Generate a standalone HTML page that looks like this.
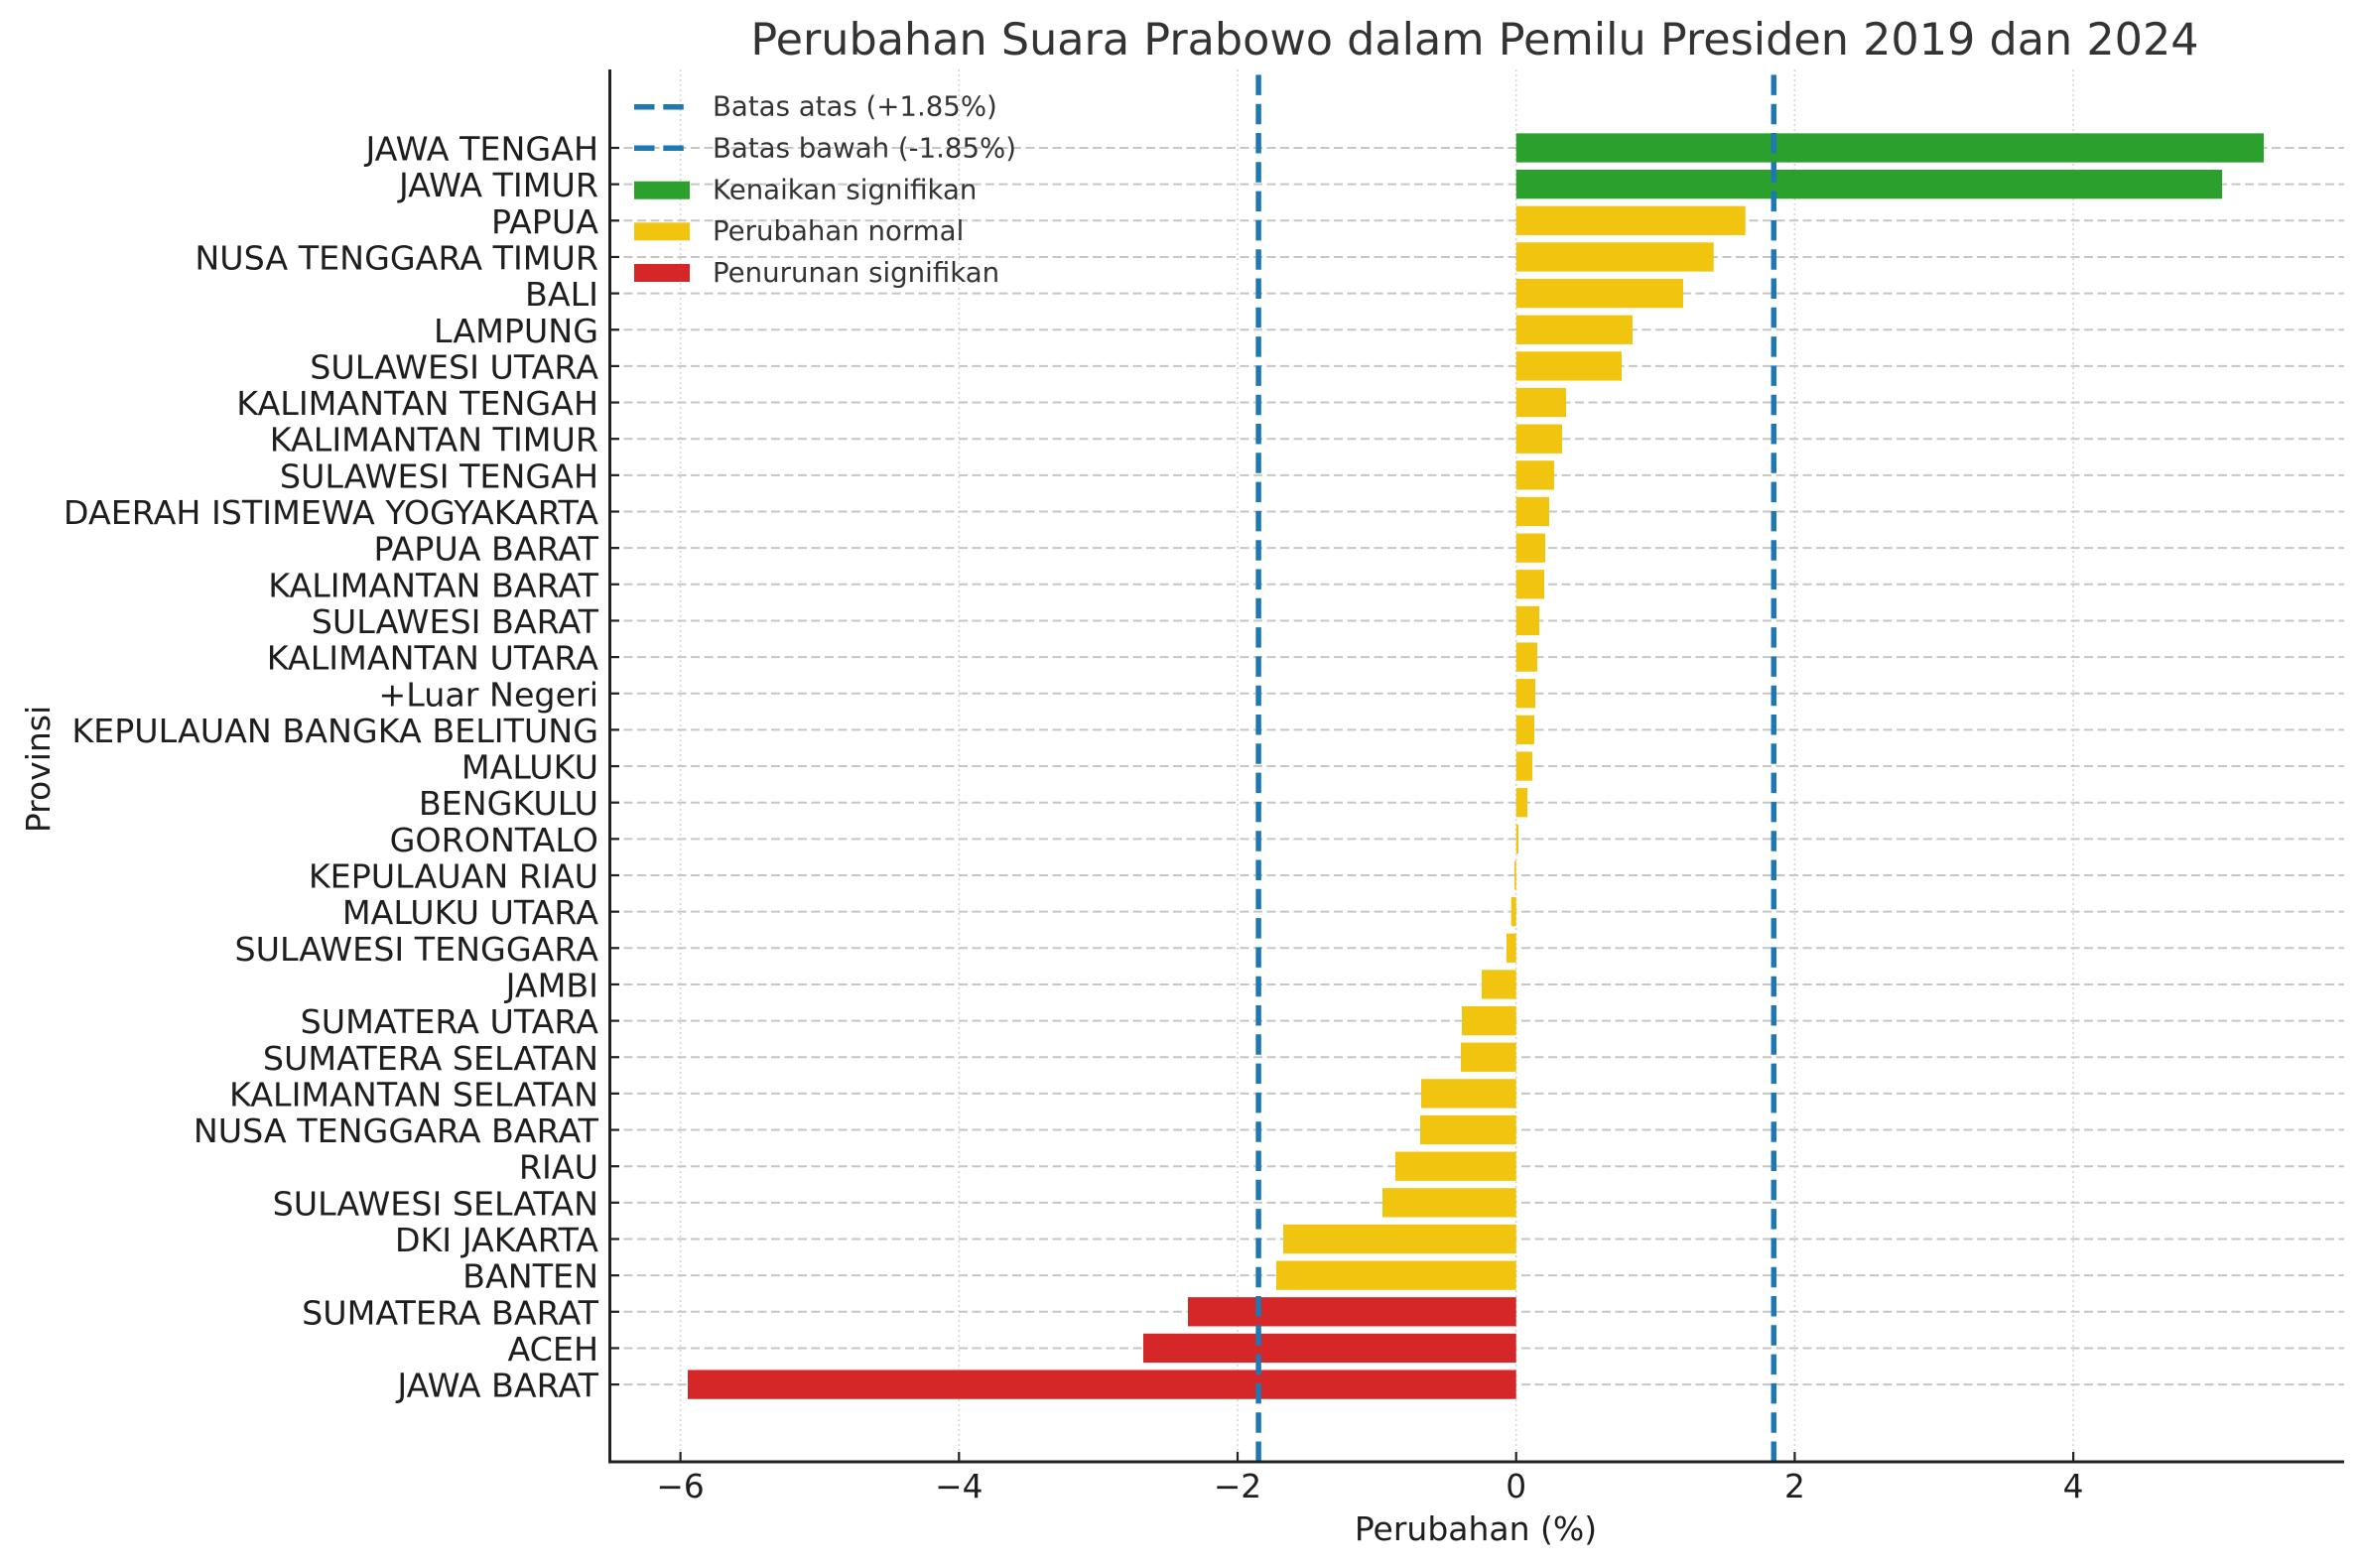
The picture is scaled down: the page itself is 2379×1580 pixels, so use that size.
<!DOCTYPE html>
<html>
<head>
<meta charset="utf-8">
<style>
html,body{margin:0;padding:0;background:#fff;}
svg{display:block;}
text{font-family:"DejaVu Sans","Liberation Sans",sans-serif;}
</style>
</head>
<body>
<svg width="2379" height="1580" viewBox="0 0 2379 1580" xmlns="http://www.w3.org/2000/svg">
<rect x="0" y="0" width="2379" height="1580" fill="#fff"/>

<!-- vertical dotted grid -->
<g stroke="#d6d6d6" stroke-width="1.6" stroke-dasharray="2 3">
<line x1="685.6" y1="70" x2="685.6" y2="1473"/>
<line x1="966.3" y1="70" x2="966.3" y2="1473"/>
<line x1="1247" y1="70" x2="1247" y2="1473"/>
<line x1="1527.7" y1="70" x2="1527.7" y2="1473"/>
<line x1="1808.4" y1="70" x2="1808.4" y2="1473"/>
<line x1="2089.1" y1="70" x2="2089.1" y2="1473"/>
</g>

<!-- horizontal dashed grid -->
<g stroke="#c6c6c6" stroke-width="2" stroke-dasharray="9 4.5">
<line x1="615" y1="149" x2="2362" y2="149"/>
<line x1="615" y1="185.65" x2="2362" y2="185.65"/>
<line x1="615" y1="222.3" x2="2362" y2="222.3"/>
<line x1="615" y1="258.95" x2="2362" y2="258.95"/>
<line x1="615" y1="295.6" x2="2362" y2="295.6"/>
<line x1="615" y1="332.25" x2="2362" y2="332.25"/>
<line x1="615" y1="368.9" x2="2362" y2="368.9"/>
<line x1="615" y1="405.55" x2="2362" y2="405.55"/>
<line x1="615" y1="442.2" x2="2362" y2="442.2"/>
<line x1="615" y1="478.85" x2="2362" y2="478.85"/>
<line x1="615" y1="515.5" x2="2362" y2="515.5"/>
<line x1="615" y1="552.15" x2="2362" y2="552.15"/>
<line x1="615" y1="588.8" x2="2362" y2="588.8"/>
<line x1="615" y1="625.45" x2="2362" y2="625.45"/>
<line x1="615" y1="662.1" x2="2362" y2="662.1"/>
<line x1="615" y1="698.75" x2="2362" y2="698.75"/>
<line x1="615" y1="735.4" x2="2362" y2="735.4"/>
<line x1="615" y1="772.05" x2="2362" y2="772.05"/>
<line x1="615" y1="808.7" x2="2362" y2="808.7"/>
<line x1="615" y1="845.35" x2="2362" y2="845.35"/>
<line x1="615" y1="882" x2="2362" y2="882"/>
<line x1="615" y1="918.65" x2="2362" y2="918.65"/>
<line x1="615" y1="955.3" x2="2362" y2="955.3"/>
<line x1="615" y1="991.95" x2="2362" y2="991.95"/>
<line x1="615" y1="1028.6" x2="2362" y2="1028.6"/>
<line x1="615" y1="1065.25" x2="2362" y2="1065.25"/>
<line x1="615" y1="1101.9" x2="2362" y2="1101.9"/>
<line x1="615" y1="1138.55" x2="2362" y2="1138.55"/>
<line x1="615" y1="1175.2" x2="2362" y2="1175.2"/>
<line x1="615" y1="1211.85" x2="2362" y2="1211.85"/>
<line x1="615" y1="1248.5" x2="2362" y2="1248.5"/>
<line x1="615" y1="1285.15" x2="2362" y2="1285.15"/>
<line x1="615" y1="1321.8" x2="2362" y2="1321.8"/>
<line x1="615" y1="1358.45" x2="2362" y2="1358.45"/>
<line x1="615" y1="1395.1" x2="2362" y2="1395.1"/>
</g>

<!-- bars -->
<g>
<rect x="1527.7" y="134.35" width="753.3" height="29.3" fill="#2ca02c"/>
<rect x="1527.7" y="171" width="711.3" height="29.3" fill="#2ca02c"/>
<rect x="1527.7" y="207.65" width="231" height="29.3" fill="#f1c40f"/>
<rect x="1527.7" y="244.3" width="199" height="29.3" fill="#f1c40f"/>
<rect x="1527.7" y="280.95" width="168.3" height="29.3" fill="#f1c40f"/>
<rect x="1527.7" y="317.6" width="117.3" height="29.3" fill="#f1c40f"/>
<rect x="1527.7" y="354.25" width="106.3" height="29.3" fill="#f1c40f"/>
<rect x="1527.7" y="390.9" width="50.3" height="29.3" fill="#f1c40f"/>
<rect x="1527.7" y="427.55" width="46.3" height="29.3" fill="#f1c40f"/>
<rect x="1527.7" y="464.2" width="38.3" height="29.3" fill="#f1c40f"/>
<rect x="1527.7" y="500.85" width="33.3" height="29.3" fill="#f1c40f"/>
<rect x="1527.7" y="537.5" width="29.3" height="29.3" fill="#f1c40f"/>
<rect x="1527.7" y="574.15" width="28.3" height="29.3" fill="#f1c40f"/>
<rect x="1527.7" y="610.8" width="23.3" height="29.3" fill="#f1c40f"/>
<rect x="1527.7" y="647.45" width="21.3" height="29.3" fill="#f1c40f"/>
<rect x="1527.7" y="684.1" width="19.3" height="29.3" fill="#f1c40f"/>
<rect x="1527.7" y="720.75" width="18.3" height="29.3" fill="#f1c40f"/>
<rect x="1527.7" y="757.4" width="16.3" height="29.3" fill="#f1c40f"/>
<rect x="1527.7" y="794.05" width="11.3" height="29.3" fill="#f1c40f"/>
<rect x="1527.7" y="830.7" width="2.3" height="29.3" fill="#f1c40f"/>
<rect x="1526" y="867.35" width="1.7" height="29.3" fill="#f1c40f"/>
<rect x="1522.7" y="904" width="5" height="29.3" fill="#f1c40f"/>
<rect x="1518" y="940.65" width="9.7" height="29.3" fill="#f1c40f"/>
<rect x="1493" y="977.3" width="34.7" height="29.3" fill="#f1c40f"/>
<rect x="1473" y="1013.95" width="54.7" height="29.3" fill="#f1c40f"/>
<rect x="1472" y="1050.6" width="55.7" height="29.3" fill="#f1c40f"/>
<rect x="1432" y="1087.25" width="95.7" height="29.3" fill="#f1c40f"/>
<rect x="1431" y="1123.9" width="96.7" height="29.3" fill="#f1c40f"/>
<rect x="1406" y="1160.55" width="121.7" height="29.3" fill="#f1c40f"/>
<rect x="1393" y="1197.2" width="134.7" height="29.3" fill="#f1c40f"/>
<rect x="1293" y="1233.85" width="234.7" height="29.3" fill="#f1c40f"/>
<rect x="1286" y="1270.5" width="241.7" height="29.3" fill="#f1c40f"/>
<rect x="1197" y="1307.15" width="330.7" height="29.3" fill="#d62728"/>
<rect x="1152" y="1343.8" width="375.7" height="29.3" fill="#d62728"/>
<rect x="693" y="1380.45" width="834.7" height="29.3" fill="#d62728"/>
</g>

<!-- threshold lines -->
<g stroke="#1f77b4" stroke-width="5.5" stroke-dasharray="20.5 8.8">
<line x1="1268.1" y1="1473" x2="1268.1" y2="70"/>
<line x1="1787.3" y1="1473" x2="1787.3" y2="70"/>
</g>

<!-- spines -->
<line x1="614.5" y1="70" x2="614.5" y2="1474.5" stroke="#222" stroke-width="3"/>
<line x1="613" y1="1473" x2="2362" y2="1473" stroke="#222" stroke-width="3"/>

<!-- y ticks (inward) -->
<g stroke="#222" stroke-width="2.2">
<line x1="614" y1="149" x2="624" y2="149"/>
<line x1="614" y1="185.65" x2="624" y2="185.65"/>
<line x1="614" y1="222.3" x2="624" y2="222.3"/>
<line x1="614" y1="258.95" x2="624" y2="258.95"/>
<line x1="614" y1="295.6" x2="624" y2="295.6"/>
<line x1="614" y1="332.25" x2="624" y2="332.25"/>
<line x1="614" y1="368.9" x2="624" y2="368.9"/>
<line x1="614" y1="405.55" x2="624" y2="405.55"/>
<line x1="614" y1="442.2" x2="624" y2="442.2"/>
<line x1="614" y1="478.85" x2="624" y2="478.85"/>
<line x1="614" y1="515.5" x2="624" y2="515.5"/>
<line x1="614" y1="552.15" x2="624" y2="552.15"/>
<line x1="614" y1="588.8" x2="624" y2="588.8"/>
<line x1="614" y1="625.45" x2="624" y2="625.45"/>
<line x1="614" y1="662.1" x2="624" y2="662.1"/>
<line x1="614" y1="698.75" x2="624" y2="698.75"/>
<line x1="614" y1="735.4" x2="624" y2="735.4"/>
<line x1="614" y1="772.05" x2="624" y2="772.05"/>
<line x1="614" y1="808.7" x2="624" y2="808.7"/>
<line x1="614" y1="845.35" x2="624" y2="845.35"/>
<line x1="614" y1="882" x2="624" y2="882"/>
<line x1="614" y1="918.65" x2="624" y2="918.65"/>
<line x1="614" y1="955.3" x2="624" y2="955.3"/>
<line x1="614" y1="991.95" x2="624" y2="991.95"/>
<line x1="614" y1="1028.6" x2="624" y2="1028.6"/>
<line x1="614" y1="1065.25" x2="624" y2="1065.25"/>
<line x1="614" y1="1101.9" x2="624" y2="1101.9"/>
<line x1="614" y1="1138.55" x2="624" y2="1138.55"/>
<line x1="614" y1="1175.2" x2="624" y2="1175.2"/>
<line x1="614" y1="1211.85" x2="624" y2="1211.85"/>
<line x1="614" y1="1248.5" x2="624" y2="1248.5"/>
<line x1="614" y1="1285.15" x2="624" y2="1285.15"/>
<line x1="614" y1="1321.8" x2="624" y2="1321.8"/>
<line x1="614" y1="1358.45" x2="624" y2="1358.45"/>
<line x1="614" y1="1395.1" x2="624" y2="1395.1"/>
</g>
<!-- x ticks (inward) -->
<g stroke="#222" stroke-width="2.2">
<line x1="685.6" y1="1473" x2="685.6" y2="1463"/>
<line x1="966.3" y1="1473" x2="966.3" y2="1463"/>
<line x1="1247" y1="1473" x2="1247" y2="1463"/>
<line x1="1527.7" y1="1473" x2="1527.7" y2="1463"/>
<line x1="1808.4" y1="1473" x2="1808.4" y2="1463"/>
<line x1="2089.1" y1="1473" x2="2089.1" y2="1463"/>
</g>

<!-- y tick labels -->
<g font-size="33.3" fill="#1e1e1e" text-anchor="end">
<text x="603" y="161.5">JAWA TENGAH</text>
<text x="603" y="198.15">JAWA TIMUR</text>
<text x="603" y="234.8">PAPUA</text>
<text x="603" y="271.45">NUSA TENGGARA TIMUR</text>
<text x="603" y="308.1">BALI</text>
<text x="603" y="344.75">LAMPUNG</text>
<text x="603" y="381.4">SULAWESI UTARA</text>
<text x="603" y="418.05">KALIMANTAN TENGAH</text>
<text x="603" y="454.7">KALIMANTAN TIMUR</text>
<text x="603" y="491.35">SULAWESI TENGAH</text>
<text x="603" y="528">DAERAH ISTIMEWA YOGYAKARTA</text>
<text x="603" y="564.65">PAPUA BARAT</text>
<text x="603" y="601.3">KALIMANTAN BARAT</text>
<text x="603" y="637.95">SULAWESI BARAT</text>
<text x="603" y="674.6">KALIMANTAN UTARA</text>
<text x="603" y="711.25">+Luar Negeri</text>
<text x="603" y="747.9">KEPULAUAN BANGKA BELITUNG</text>
<text x="603" y="784.55">MALUKU</text>
<text x="603" y="821.2">BENGKULU</text>
<text x="603" y="857.85">GORONTALO</text>
<text x="603" y="894.5">KEPULAUAN RIAU</text>
<text x="603" y="931.15">MALUKU UTARA</text>
<text x="603" y="967.8">SULAWESI TENGGARA</text>
<text x="603" y="1004.45">JAMBI</text>
<text x="603" y="1041.1">SUMATERA UTARA</text>
<text x="603" y="1077.75">SUMATERA SELATAN</text>
<text x="603" y="1114.4">KALIMANTAN SELATAN</text>
<text x="603" y="1151.05">NUSA TENGGARA BARAT</text>
<text x="603" y="1187.7">RIAU</text>
<text x="603" y="1224.35">SULAWESI SELATAN</text>
<text x="603" y="1261">DKI JAKARTA</text>
<text x="603" y="1297.65">BANTEN</text>
<text x="603" y="1334.3">SUMATERA BARAT</text>
<text x="603" y="1370.95">ACEH</text>
<text x="603" y="1407.6">JAWA BARAT</text>
</g>

<!-- x tick labels -->
<g font-size="32.8" fill="#1e1e1e" text-anchor="middle">
<text x="685.6" y="1509">−6</text>
<text x="966.3" y="1509">−4</text>
<text x="1247" y="1509">−2</text>
<text x="1527.7" y="1509">0</text>
<text x="1808.4" y="1509">2</text>
<text x="2089.1" y="1509">4</text>
</g>

<!-- axis labels -->
<text x="1487" y="1552" font-size="33" fill="#1e1e1e" text-anchor="middle">Perubahan (%)</text>
<text transform="translate(50,775) rotate(-90)" x="0" y="0" font-size="33" fill="#1e1e1e" text-anchor="middle">Provinsi</text>

<!-- title -->
<text x="1486" y="55" font-size="44.5" fill="#333" text-anchor="middle">Perubahan Suara Prabowo dalam Pemilu Presiden 2019 dan 2024</text>

<!-- legend -->
<g stroke="#1f77b4" stroke-width="5.5" stroke-dasharray="20.5 8.8">
<line x1="639" y1="107.7" x2="689" y2="107.7"/>
<line x1="639" y1="149.3" x2="689" y2="149.3"/>
</g>
<rect x="639" y="182.7" width="56" height="18" fill="#2ca02c"/>
<rect x="639" y="224.3" width="56" height="18" fill="#f1c40f"/>
<rect x="639" y="266" width="56" height="18" fill="#d62728"/>
<g font-size="27.6" fill="#333">
<text x="718" y="116.7">Batas atas (+1.85%)</text>
<text x="718" y="158.5">Batas bawah (-1.85%)</text>
<text x="718" y="200.3">Kenaikan signifikan</text>
<text x="718" y="242.1">Perubahan normal</text>
<text x="718" y="283.9">Penurunan signifikan</text>
</g>
</svg>
</body>
</html>
